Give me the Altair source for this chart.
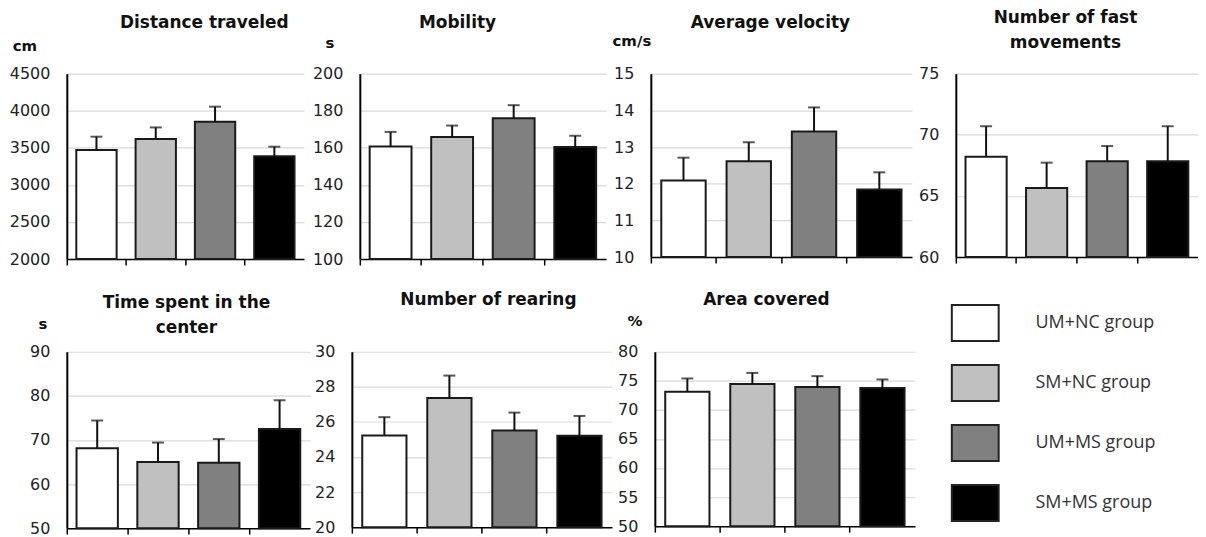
import altair as alt
import pandas as pd

groups = ["UM+NC group", "SM+NC group", "UM+MS group", "SM+MS group"]
palette = ["#ffffff", "#c0c0c0", "#808080", "#000000"]

# Distance traveled (cm)
dist_mean = [3470, 3620, 3850, 3385]
dist_upper = [3650, 3775, 4055, 3515]
dist_ticks = [2000, 2500, 3000, 3500, 4000, 4500]

# Mobility (s)
mob_mean = [160.7, 165.8, 176.0, 160.4]
mob_upper = [168.6, 172.0, 183.0, 166.5]
mob_ticks = [100, 120, 140, 160, 180, 200]

# Average velocity (cm/s)
vel_mean = [12.09, 12.61, 13.42, 11.84]
vel_upper = [12.71, 13.13, 14.08, 12.31]
vel_ticks = [10, 11, 12, 13, 14, 15]

# Number of fast movements
fast_mean = [68.2, 65.65, 67.83, 67.83]
fast_upper = [70.7, 67.72, 69.08, 70.7]
fast_ticks = [60, 65, 70, 75]

# Time spent in the center (s)
center_mean = [68.1, 65.0, 64.8, 72.5]
center_upper = [74.4, 69.4, 70.2, 79.0]
center_ticks = [50, 60, 70, 80, 90]

# Number of rearing
rear_mean = [25.23, 27.36, 25.51, 25.21]
rear_upper = [26.27, 28.64, 26.53, 26.34]
rear_ticks = [20, 22, 24, 26, 28, 30]

# Area covered (%)
area_mean = [73.13, 74.43, 73.92, 73.75]
area_upper = [75.4, 76.36, 75.8, 75.23]
area_ticks = [50, 55, 60, 65, 70, 75, 80]

TITLE_FONT = "DejaVu Sans"
LABEL_FONT = "DejaVu Sans"
INK = "#111111"
TITLE_SIZE = 17


def panel(title, unit, means, uppers, ticks, width, height, extent,
          title_x, title_base, unit_x, unit_y):
    df = pd.DataFrame({"group": groups, "mean": means, "upper": uppers})
    base = alt.Chart(df)
    x = alt.X(
        "group:N", sort=groups,
        scale=alt.Scale(paddingInner=0, paddingOuter=0),
        axis=alt.Axis(title=None, labels=False, ticks=True, tickSize=6,
                      tickColor="black", tickWidth=1.5, bandPosition=0,
                      domainColor="black", domainWidth=1.5, grid=False),
    )
    yscale = alt.Scale(domain=[ticks[0], ticks[-1]], nice=False, zero=False)
    yaxis = alt.Axis(title=None, values=ticks, format="d", ticks=False,
                     labelPadding=17, domainColor="black", domainWidth=2,
                     grid=True, gridColor="#d9d9d9", gridWidth=1.2,
                     minExtent=extent, maxExtent=extent)
    bars = base.mark_bar(width={"band": 0.68}, stroke="#1a1a1a",
                         strokeWidth=2).encode(
        x=x,
        y=alt.Y("mean:Q", scale=yscale, axis=yaxis),
        y2=alt.datum(ticks[0]),
        color=alt.Color("group:N", scale=alt.Scale(domain=groups, range=palette),
                        legend=None),
    )
    rule = base.mark_rule(strokeWidth=2, color=INK).encode(
        x=x, y=alt.Y("mean:Q", scale=yscale, axis=yaxis), y2="upper:Q")
    cap = base.mark_tick(size=12, thickness=2, color=INK).encode(
        x=x, y=alt.Y("upper:Q", scale=yscale, axis=yaxis))
    title_txt = alt.Chart(pd.DataFrame({"t": [title]})).mark_text(
        font=TITLE_FONT, fontSize=TITLE_SIZE, fontWeight="bold", align="center",
        baseline="top", lineBreak="\n", lineHeight=25, color="#111",
    ).encode(x=alt.value(title_x), y=alt.value(title_base - 0.79 * TITLE_SIZE),
             text="t:N")
    layers = [bars, rule, cap, title_txt]
    if unit:
        unit_txt = alt.Chart(pd.DataFrame({"u": [unit]})).mark_text(
            font=TITLE_FONT, fontSize=15, fontWeight="bold", align="center",
            baseline="middle", color="#111",
        ).encode(x=alt.value(unit_x), y=alt.value(unit_y), text="u:N")
        layers.append(unit_txt)
    return alt.layer(*layers).properties(width=width, height=height)


p1 = panel("Distance traveled", "cm", dist_mean, dist_upper, dist_ticks,
           238, 186, 59, 138, -45, -42, -28)
p2 = panel("Mobility", "s", mob_mean, mob_upper, mob_ticks,
           247, 186, 56, 98, -45, -30, -31)
p3 = panel("Average velocity", "cm/s", vel_mean, vel_upper, vel_ticks,
           262, 184, 45, 120, -45, -19, -33)
p4 = panel("Number of fast\nmovements", "", fast_mean, fast_upper, fast_ticks,
           243, 184, 44, 110, -50, 0, 0)
p5 = panel("Time spent in the\ncenter", "s", center_mean, center_upper,
           center_ticks, 244, 177, 58, 120, -43, -24, -28)
p6 = panel("Number of rearing", "", rear_mean, rear_upper, rear_ticks,
           261, 176, 42, 137, -46, 0, 0)
p7 = panel("Area covered", "%", area_mean, area_upper, area_ticks,
           261, 175, 43, 112, -46, -20, -31)

leg_df = pd.DataFrame({"group": groups})
leg_y = alt.Y("group:N", sort=groups,
              scale=alt.Scale(paddingInner=0.4, paddingOuter=0.2,
                              range=[-59, 182]),
              axis=None)
leg_box = alt.Chart(leg_df).mark_rect(stroke="#222", strokeWidth=2).encode(
    y=leg_y, x=alt.value(37), x2=alt.value(84),
    color=alt.Color("group:N", scale=alt.Scale(domain=groups, range=palette),
                    legend=None),
)
leg_txt = alt.Chart(leg_df).mark_text(
    font="Open Sans", fontSize=18, align="left", baseline="middle", color="#333"
).encode(y=leg_y, x=alt.value(121), text="group:N")
legend = alt.layer(leg_box, leg_txt).properties(width=265, height=176)

row1 = alt.hconcat(p1, p2, p3, p4, spacing=0)
row2 = alt.hconcat(p5, p6, p7, legend, spacing=0)

chart = alt.vconcat(row1, row2, spacing=24).properties(
    padding={"left": 0, "top": 0, "right": 0, "bottom": 0}
).configure_view(stroke=None).configure_axis(
    labelFont=LABEL_FONT, labelFontSize=16, labelColor="#222"
)

chart.save("out.html", embed_options={"renderer": "svg", "actions": False})
